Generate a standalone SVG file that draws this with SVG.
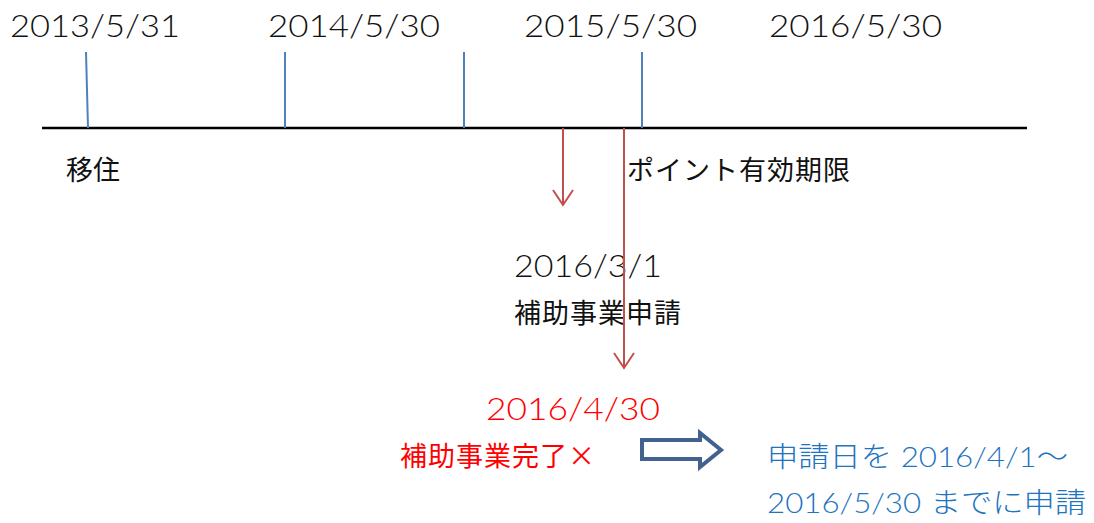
<svg xmlns="http://www.w3.org/2000/svg" width="1094" height="523" viewBox="0 0 1094 523">
<style>
.d{font-family:Lato,"Liberation Sans","Noto Sans CJK JP",sans-serif;font-weight:300;font-size:32px;fill:#111}
.j{font-family:"Noto Sans CJK JP",sans-serif;font-size:27px;fill:#111}
.m{font-family:Lato,"Noto Sans CJK JP",sans-serif;font-weight:300;font-size:28px;fill:#1F74C0}
.tick{stroke:#4F81BD;stroke-width:2}
.red{stroke:#C0504D;stroke-width:2;fill:none}
</style>
<rect width="1094" height="523" fill="#fff"/>
<g id="timeline">
<line x1="42" y1="128" x2="1027" y2="128" stroke="#000" stroke-width="2.5"/>
</g>
<g id="ticks">
<line class="tick" x1="86" y1="52" x2="88" y2="128"/>
<line class="tick" x1="285" y1="52" x2="285" y2="128"/>
<line class="tick" x1="464" y1="52" x2="464" y2="128"/>
<line class="tick" x1="642" y1="52" x2="642" y2="128"/>
</g>
<g id="date-labels">
<text class="d" x="10" y="37" textLength="170" lengthAdjust="spacingAndGlyphs">2013/5/31</text>
<text class="d" x="268" y="37" textLength="172" lengthAdjust="spacingAndGlyphs">2014/5/30</text>
<text class="d" x="524" y="37" textLength="173" lengthAdjust="spacingAndGlyphs">2015/5/30</text>
<text class="d" x="769" y="37" textLength="173" lengthAdjust="spacingAndGlyphs">2016/5/30</text>
</g>
<g id="node-iju"><text class="j" x="66" y="180">移住</text></g>
<g id="node-point"><text class="j" x="627" y="180" textLength="223">ポイント有効期限</text></g>
<g id="node-apply">
<text class="d" x="514" y="277" textLength="148" lengthAdjust="spacingAndGlyphs">2016/3/1</text>
<text class="j" x="514" y="323" textLength="167">補助事業申請</text>
</g>
<g id="node-complete">
<text class="d" x="486" y="420" style="fill:#FF0000" textLength="174" lengthAdjust="spacingAndGlyphs">2016/4/30</text>
<text class="j" x="400" y="466" style="fill:#FF0000" textLength="195">補助事業完了×</text>
</g>
<g id="node-result">
<text class="m" x="767" y="467" textLength="301" lengthAdjust="spacingAndGlyphs">申請日を 2016/4/1～</text>
<text class="m" x="767" y="513" textLength="319" lengthAdjust="spacingAndGlyphs">2016/5/30 までに申請</text>
</g>
<g id="connectors">
<line class="red" x1="563" y1="128" x2="563" y2="205"/>
<polyline class="red" points="553,190 563,205 573,190"/>
<line class="red" x1="624" y1="128" x2="624" y2="368"/>
<polyline class="red" points="614,353 624,368 634,353"/>
<path d="M642,440 H700 V433 L721,450 L700,467 V459 H642 Z" fill="#fff" stroke="#41618F" stroke-width="4" stroke-linejoin="miter"/>
</g>
</svg>
